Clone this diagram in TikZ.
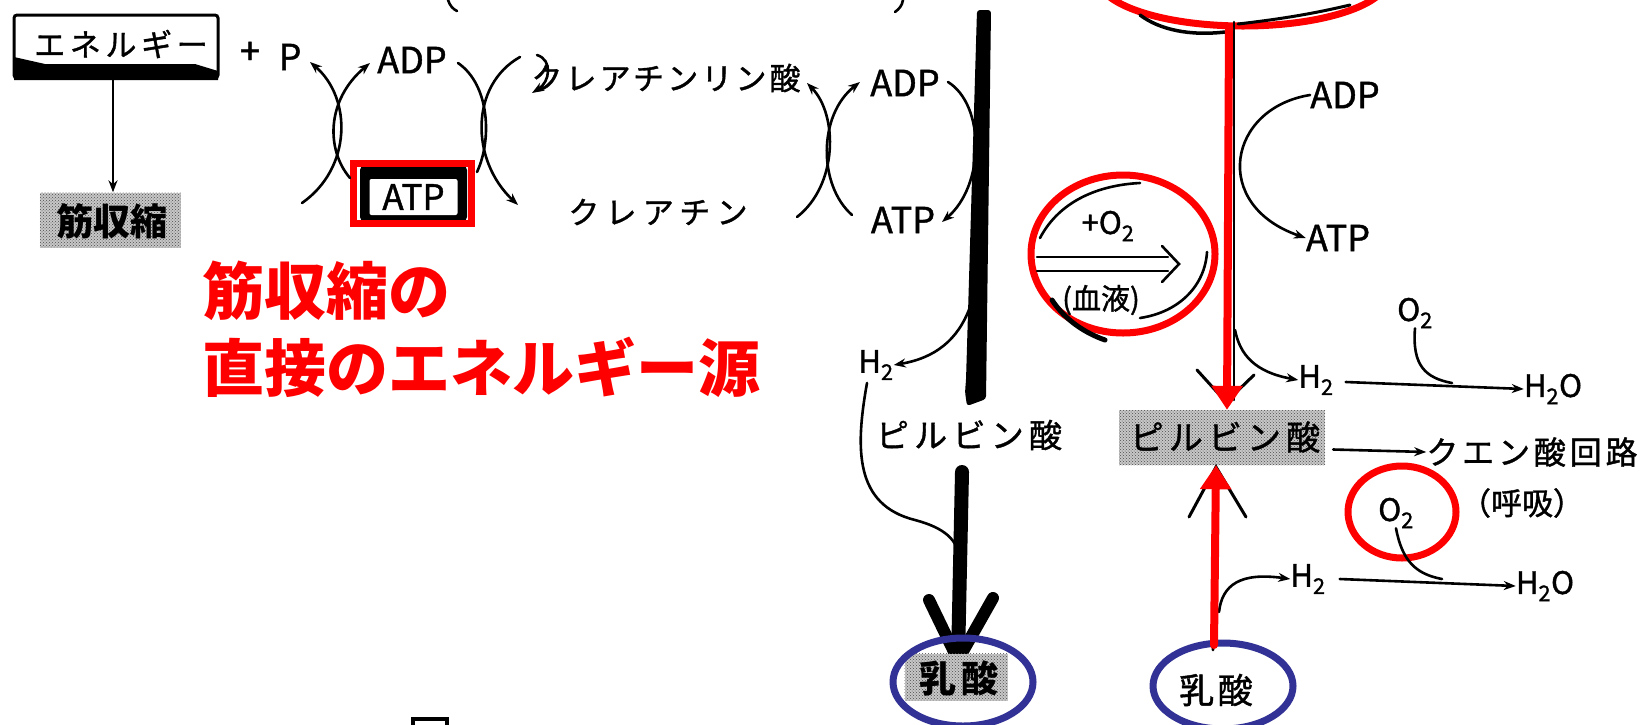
\documentclass[tikz,border=0pt]{standalone}
\usepackage{fontspec}
\newfontfamily\cjk{Noto Sans CJK JP}
\usetikzlibrary{arrows.meta,patterns,shapes.geometric}
\definecolor{myblue}{RGB}{50,50,150}
\newcommand\fsz[1]{\fontsize{#1}{#1}\selectfont}
\newcommand\lsp[1]{\addfontfeature{LetterSpace=#1}}
\newcommand\bk{\addfontfeature{FakeBold=1.2}}
\begin{document}
\begin{tikzpicture}[x=1pt,y=-1pt,line cap=round,
  every node/.style={inner sep=0pt},
  ln/.style={line width=2.6pt},
  arr/.style={ln,-{Stealth[length=12pt,width=9pt]}},
  lat/.style={font=\cjk\bk\fsz{36}},
  chem/.style={font=\cjk\bk\fsz{31}},
  texbox/.style={fill=black!22,postaction={pattern=crosshatch dots,pattern color=black!70}},
  redring/.style={draw=red,line width=7pt},
  bluering/.style={draw=myblue,line width=7pt},
  redtxt/.style={font=\cjk\bfseries\fsz{62},text=red,anchor=west},
  thick bar/.style={line width=14pt}]
\clip (0,0) rectangle (1648,724);
\fill[white] (0,0) rectangle (1648,724);

% ---------- left: energy -> muscle contraction
\node[draw,line width=3pt,rounded corners=3pt,minimum width=204pt,minimum height=63pt] (ene) at (116,46.5) {};
\fill (14,57) -- (45,64) -- (195,64) -- (218,71) -- (218,80) -- (14,80) -- cycle;
\node[font=\cjk\bk\fsz{31}\lsp{15}] (enet) at (121,44) {エネルギー};
\node[texbox,minimum width=141pt,minimum height=55pt] (kin) at (110,220) {};
\node[font=\cjk\bfseries\fsz{37}] (kint) at (112,221) {筋収縮};
\draw[arr] (ene.south -| 113,0) -- (kin.north -| 113,0);

\node[lat] (plus) at (250,53) {+};
\node[lat] (P) at (290,57) {P};
\node[lat] (adp1) at (412,60) {ADP};
\node[fill=black,rounded corners=5pt,minimum width=107pt,minimum height=57pt] (atpbox) at (413.5,193.5) {};
\node[fill=white,rounded corners=2pt,minimum width=88pt,minimum height=36pt,font=\cjk\bk\fsz{35}] (atp1) at (413.5,197) {ATP};
\node[draw=red,line width=7pt,minimum width=118pt,minimum height=60pt] (atpred) at (412.5,193.5) {};

% left X
\coordinate (lx1) at (302,203); \coordinate (lx2) at (310,62);
\coordinate (lx3) at (350,178); \coordinate (lx4) at (370,63);
\draw[arr] (lx1) .. controls (352,168) and (352,98) .. (lx2);
\draw[arr] (lx3) .. controls (326,150) and (326,100) .. (lx4);

% second X
\coordinate (mx1) at (458,63); \coordinate (mx2) at (477,172);
\coordinate (mx3) at (520,57); \coordinate (mx4) at (518,205);
\draw[ln] (mx1) .. controls (490,85) and (492,140) .. (mx2);
\draw[arr] (mx3) .. controls (470,85) and (470,160) .. (mx4);
\coordinate (hk1) at (537,55); \coordinate (hk2) at (532,93);
\draw[arr] (hk1) .. controls (553,60) and (550,82) .. (hk2);

\node[font=\cjk\bk\fsz{31}\lsp{10}] (crp) at (666,78) {クレアチンリン酸};
\node[font=\cjk\bk\fsz{31}\lsp{20}] (cr) at (658,212) {クレアチン};

% third X
\coordinate (rx1) at (797,217); \coordinate (rx2) at (807,83);
\coordinate (rx3) at (852,215); \coordinate (rx4) at (860,82);
\draw[arr] (rx1) .. controls (838,185) and (838,115) .. (rx2);
\draw[arr] (rx3) .. controls (818,185) and (818,115) .. (rx4);

\node[lat] (adp2) at (905,83) {ADP};
\node[lat] (atp2) at (903,220) {ATP};
\coordinate (a2s) at (948,82); \coordinate (a2e) at (942,222);
\draw[arr] (a2s) .. controls (985,105) and (985,185) .. (a2e);

% thick glycolysis bar (tapered)
\fill[rounded corners=3pt] (977,10) -- (991,10) -- (986,399) -- (967,406) -- (965,392) -- (966,380) -- cycle;

\node[chem] (h2l) at (876,365) {H\textsubscript{2}};
\coordinate (h2ls) at (970,307);
\draw[arr] (h2ls) .. controls (958,340) and (935,358) .. (h2l.east);
\coordinate (thin1) at (867,383);
\draw[ln] (thin1) .. controls (855,450) and (855,505) .. (915,520) .. controls (945,528) and (958,540) .. (960,560);

\node[font=\cjk\bk\fsz{33}\lsp{16}] (pyl) at (969,435) {ピルビン酸};
\coordinate (ta1) at (962,472); \coordinate (ta2) at (958,660);
\draw[thick bar] (ta1) -- (ta2);
\draw[line width=12pt,line join=round] (929,600) -- (ta2) -- (993,598);

\node[texbox,minimum width=103pt,minimum height=47pt] (nyl) at (956,677) {};
\node[font=\cjk\bfseries\fsz{37}\lsp{12}] (nylt) at (959,678) {乳酸};
\node[bluering,ellipse,minimum width=140pt,minimum height=88pt] (bl1) at (963,682) {};

% ---------- right: aerobic
\draw[redring] (1243,-22) ellipse [x radius=145,y radius=48];
\draw[line width=3.5pt] (1140,15) .. controls (1160,30) and (1190,36) .. (1225,32);
\draw[line width=3pt] (1238,24) .. controls (1290,18) and (1320,12) .. (1350,5);
\coordinate (vtop) at (1234,22); \coordinate (vbot) at (1234,400);
\draw[ln] (vtop) -- (vbot);
\draw[line width=3pt] (1197,370) -- (1226,402) -- (1254,375);
\node[texbox,minimum width=206pt,minimum height=55pt] (pyr) at (1222,437.5) {};
\node[font=\cjk\bk\fsz{34}\lsp{15}] (pyrt) at (1225,437) {ピルビン酸};
\coordinate (rtop) at (1229,27);
\draw[red,line width=8pt,-{Triangle[length=24pt,width=30pt]}] (rtop) -- (pyr.north -| 1227,0);

\node[lat] (adp3) at (1345,95) {ADP};
\node[lat] (atp3) at (1338,238) {ATP};
\draw[arr] (adp3.west) .. controls (1228,108) and (1210,205) .. (atp3.west);

\node[redring,ellipse,minimum width=184pt,minimum height=158pt] (oc) at (1123,254) {};
\node[chem] (o2in) at (1108,226) {+O\textsubscript{2}};
\draw[ln] (1037,257) -- (1168,257);
\draw[ln] (1037,271) -- (1168,271);
\draw[ln,line join=miter] (1162,246) -- (1179,264) -- (1162,282);
\node[font=\cjk\bk\fsz{29}] (blood) at (1101,300) {(血液)};
\draw[ln] (1040,238) .. controls (1060,200) and (1100,185) .. (1140,183);
\draw[ln] (1207,252) .. controls (1205,285) and (1180,312) .. (1140,318);
\draw[line width=5pt] (1052,300) .. controls (1065,320) and (1085,333) .. (1105,340);

\node[chem] (h2a) at (1316,380) {H\textsubscript{2}};
\coordinate (h2as) at (1235,330);
\draw[arr] (h2as) .. controls (1240,355) and (1255,372) .. (h2a.west);
\node[chem] (h2oa) at (1553,389) {H\textsubscript{2}O};
\draw[arr] (h2a.east) ++(12,2) -- (h2oa.west);
\node[chem] (o2a) at (1415,313) {O\textsubscript{2}};
\draw[ln] (o2a.south) .. controls (1412,365) and (1425,378) .. (1452,383);

\node[font=\cjk\bk\fsz{32}\lsp{12}] (tca) at (1532,452) {クエン酸回路};
\draw[arr] (pyr.east) ++(8,12) -- (tca.west);
\node[font=\cjk\bk\fsz{31}] (resp) at (1522,503) {（呼吸）};

\node[chem] (o2b) at (1396,513) {O\textsubscript{2}};
\node[redring,ellipse,minimum width=108pt,minimum height=92pt] (o2c) at (1402,512) {};
\node[chem] (h2b) at (1308,579) {H\textsubscript{2}};
\node[chem] (h2ob) at (1545,586) {H\textsubscript{2}O};
\draw[arr] (h2b.east) ++(14,0) -- (h2ob.west);
\draw[ln] (o2b.south) .. controls (1402,560) and (1415,574) .. (1442,579);
\coordinate (h2bs) at (1219,612);
\draw[arr] (h2bs) .. controls (1222,585) and (1240,572) .. (h2b.west);

\draw[line width=3pt] (1189,517) -- (1216,467) -- (1246,517);
\node[font=\cjk\bk\fsz{35}\lsp{10}] (nyr) at (1216,690) {乳酸};
\node[bluering,ellipse,minimum width=140pt,minimum height=86pt] (bl2) at (1223,686) {};
\coordinate (ubot) at (1214,645);
\draw[ln] (1213,650) -- (1215,470);
\draw[red,line width=8pt,-{Triangle[length=24pt,width=30pt]}] (ubot) -- (pyr.south -| 1216,0);

% red captions
\node[redtxt] (cap1) at (202,291) {筋収縮の};
\node[redtxt] (cap2) at (202,367) {直接のエネルギー源};

% fragments at the edges
\draw[ln] (448,0) .. controls (450,6) and (453,9) .. (457,11);
\draw[ln] (903,0) .. controls (902,6) and (899,9) .. (895,12);
\draw[line width=4pt] (413,726) -- (413,719) -- (447,719) -- (447,726);
\end{tikzpicture}
\end{document}
